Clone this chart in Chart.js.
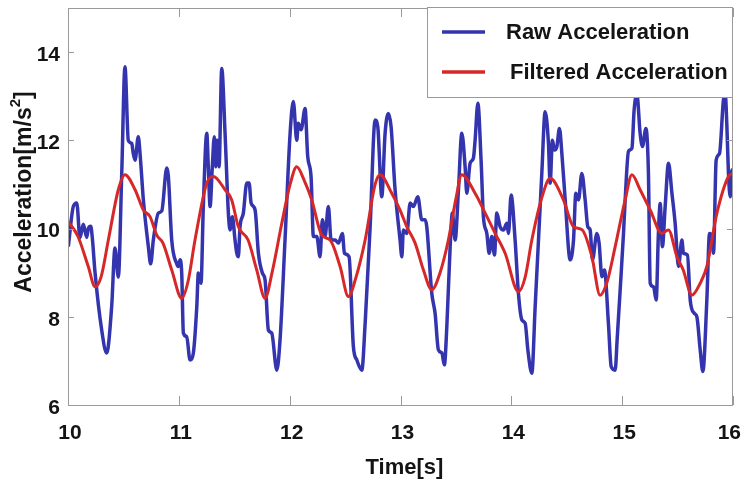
<!DOCTYPE html>
<html>
<head>
<meta charset="utf-8">
<script src="https://cdn.jsdelivr.net/npm/chart.js@4.4.1/dist/chart.umd.min.js"></script>
<style>
  html, body { margin: 0; padding: 0; background: #ffffff; }
  #wrap { width: 742px; height: 481px; }
</style>
</head>
<body>
<div id="wrap"><canvas id="c" width="742" height="481"></canvas></div>
<script>
// ---------- DATA ----------
const seriesNames = ['Raw Acceleration', 'Filtered Acceleration'];
const xAxisTitle = 'Time[s]';
const yAxisTitleMain = 'Acceleration[m/s';
const yAxisTitleSup = '2';
const yAxisTitleEnd = ']';
const xTickValues = [10, 11, 12, 13, 14, 15, 16];
const yTickValues = [6, 8, 10, 12, 14];

const rawTime = [
  10.003,10.048,10.079,10.108,10.138,10.169,10.183,10.205,10.219,10.244,10.304,10.349,10.394,10.424,10.454,10.485,10.514,10.544,10.575,10.589,
  10.605,10.634,10.650,10.680,10.725,10.746,10.770,10.815,10.846,10.891,10.905,10.936,10.981,10.995,11.011,11.026,11.041,11.071,11.101,11.131,
  11.162,11.176,11.200,11.221,11.252,11.266,11.282,11.302,11.320,11.333,11.345,11.363,11.387,11.417,11.447,11.462,11.483,11.507,11.523,11.537,
  11.552,11.582,11.613,11.634,11.652,11.688,11.718,11.754,11.778,11.808,11.838,11.884,11.913,11.958,12.004,12.033,12.064,12.078,12.103,12.139,
  12.163,12.193,12.214,12.245,12.274,12.295,12.319,12.349,12.374,12.410,12.440,12.476,12.494,12.536,12.575,12.606,12.651,12.681,12.726,12.771,
  12.795,12.831,12.861,12.891,12.915,12.951,12.996,13.012,13.026,13.057,13.087,13.116,13.156,13.192,13.222,13.237,13.282,13.312,13.342,13.373,
  13.396,13.418,13.448,13.468,13.493,13.523,13.553,13.583,13.598,13.628,13.658,13.673,13.698,13.727,13.748,13.779,13.800,13.824,13.848,13.869,
  13.899,13.929,13.959,13.974,13.998,14.034,14.064,14.095,14.125,14.149,14.185,14.215,14.245,14.275,14.305,14.335,14.350,14.371,14.389,14.411,
  14.434,14.456,14.486,14.531,14.561,14.582,14.606,14.636,14.666,14.690,14.711,14.732,14.772,14.792,14.817,14.840,14.876,14.901,14.937,14.955,
  14.982,15.012,15.027,15.057,15.088,15.108,15.133,15.162,15.183,15.214,15.237,15.253,15.283,15.307,15.327,15.343,15.363,15.388,15.418,15.449,
  15.478,15.508,15.539,15.553,15.589,15.614,15.650,15.674,15.704,15.728,15.764,15.788,15.810,15.824,15.848,15.878,15.914,15.930,15.945,15.959,
  15.975,15.990,16.000
];
const rawAccel = [
  9.59,10.50,10.58,9.79,10.10,9.80,10.00,10.05,9.80,9.00,7.70,7.18,8.23,9.56,8.90,11.26,13.67,12.00,11.93,11.70,
  11.55,12.08,11.70,10.65,9.59,9.20,9.74,10.35,10.40,11.37,11.20,9.74,9.20,9.14,9.29,8.99,7.63,7.55,7.02,7.18,
  8.23,8.99,8.76,10.50,12.16,11.40,10.50,11.40,12.08,11.40,12.00,11.40,13.63,12.16,10.35,9.97,10.27,9.74,9.44,9.36,
  10.04,10.35,11.03,11.03,10.58,10.42,9.44,8.99,8.84,7.70,7.63,6.79,7.47,9.74,12.16,12.88,12.00,12.39,12.24,12.72,
  11.63,11.18,9.82,9.82,9.36,10.20,9.82,10.50,9.74,9.74,9.67,9.89,9.44,9.36,7.32,7.02,6.79,7.85,10.04,12.46,
  12.31,10.72,12.16,12.61,12.31,10.88,9.74,9.36,9.97,9.89,10.58,10.50,10.72,10.20,10.20,10.04,8.54,8.08,7.25,7.18,
  6.91,7.78,9.59,10.35,9.74,10.88,12.16,11.40,10.80,11.48,11.60,12.00,12.84,11.55,10.27,9.89,9.44,9.82,9.40,10.35,
  10.04,9.97,10.12,9.89,10.76,9.74,8.53,7.93,7.85,7.25,6.72,8.23,9.74,11.25,12.65,11.93,11.03,12.00,11.78,11.86,
  12.27,11.70,10.65,9.29,9.74,10.80,10.65,11.25,10.65,10.04,9.97,9.29,9.89,9.67,8.91,9.06,7.85,6.87,6.79,7.50,
  8.61,9.89,10.65,11.75,11.82,12.69,13.05,12.16,11.86,12.27,11.25,8.76,8.68,8.38,9.89,10.57,9.59,10.50,11.48,10.80,
  10.12,9.14,9.74,9.44,9.40,8.38,8.08,8.00,7.25,6.76,8.38,9.89,9.82,9.44,11.55,11.70,12.92,13.05,12.31,11.25,
  10.72,11.33,10.90
];

const filtTime = [
  10.003,10.090,10.183,10.244,10.298,10.364,10.454,10.514,10.605,10.680,10.740,10.801,10.857,10.936,11.026,11.083,11.146,11.252,11.311,11.417,
  11.477,11.537,11.625,11.703,11.778,11.841,11.929,12.004,12.064,12.130,12.199,12.290,12.365,12.455,12.530,12.599,12.681,12.771,12.816,12.921,
  12.996,13.057,13.132,13.207,13.282,13.357,13.432,13.502,13.553,13.673,13.764,13.854,13.944,14.064,14.125,14.185,14.275,14.350,14.470,14.561,
  14.639,14.727,14.801,14.865,14.937,15.027,15.088,15.162,15.253,15.358,15.418,15.494,15.551,15.629,15.704,15.764,15.855,15.959,16.000
];
const filtAccel = [
  10.16,9.82,9.14,8.68,8.90,9.74,10.88,11.22,10.88,10.42,10.27,9.85,9.67,9.06,8.42,8.80,9.74,11.03,11.18,10.88,
  10.65,10.04,9.74,9.06,8.42,9.00,10.12,11.00,11.40,11.10,10.65,9.85,9.74,9.14,8.46,8.90,9.74,11.00,11.22,10.80,
  10.42,10.04,9.67,9.06,8.61,9.00,9.74,10.70,11.22,10.80,10.35,9.89,9.44,8.57,8.90,9.74,10.70,11.14,10.65,10.04,
  9.97,9.36,8.49,8.80,9.59,10.65,11.22,10.88,10.42,9.89,9.97,9.36,9.06,8.49,8.76,9.14,10.35,11.18,11.25
];

// ---------- STYLE ----------
const RAW_COLOR = '#3434ae';
const FILT_COLOR = '#d62828';
const TEXT_COLOR = '#141414';
const FRAME_COLOR = '#9a9a9a';
const FONT = '"Liberation Sans", Arial, sans-serif';
const TICK_FONT = 'bold 21px ' + FONT;

const toPoints = (xs, ys) => xs.map((x, i) => ({ x: x, y: ys[i] }));

const framePlugin = {
  id: 'frame',
  afterDatasetsDraw(chart) {
    const ctx = chart.ctx;
    const a = chart.chartArea;
    const W = chart.width;
    const xs = chart.scales.x, ys = chart.scales.y;
    ctx.save();
    // frame
    ctx.strokeStyle = FRAME_COLOR;
    ctx.lineWidth = 1;
    ctx.strokeRect(Math.round(a.left) + 0.5, Math.round(a.top) + 0.5,
                   Math.round(a.right - a.left) - 1, Math.round(a.bottom - a.top));
    // inward ticks
    ctx.beginPath();
    xTickValues.forEach(v => {
      const px = Math.round(xs.getPixelForValue(v)) + 0.5;
      ctx.moveTo(px, a.bottom); ctx.lineTo(px, a.bottom - 9);
      ctx.moveTo(px, a.top); ctx.lineTo(px, a.top + 9);
    });
    yTickValues.forEach(v => {
      const py = Math.round(ys.getPixelForValue(v)) + 0.5;
      ctx.moveTo(a.left, py); ctx.lineTo(a.left + 6, py);
      ctx.moveTo(a.right, py); ctx.lineTo(a.right - 6, py);
    });
    ctx.stroke();

    // x tick labels (kept inside the canvas at the right edge)
    ctx.fillStyle = TEXT_COLOR;
    ctx.font = TICK_FONT;
    ctx.textAlign = 'center';
    ctx.textBaseline = 'middle';
    xTickValues.forEach(v => {
      const txt = String(v);
      const w = ctx.measureText(txt).width;
      let px = xs.getPixelForValue(v) + 2;
      px = Math.min(px, W - 1 - w / 2);
      ctx.fillText(txt, px, a.bottom + 28);
    });

    // legend box (top-right corner of the plot)
    const lx0 = a.right - 306, ly0 = a.top - 1, lw = 306, lh = 90;
    ctx.fillStyle = '#ffffff';
    ctx.fillRect(lx0, ly0, lw, lh);
    ctx.strokeStyle = FRAME_COLOR;
    ctx.lineWidth = 1;
    ctx.strokeRect(lx0 + 0.5, ly0 + 0.5, lw - 1, lh);
    const rows = [
      { color: RAW_COLOR, label: chart.data.datasets[0].label, y: ly0 + 25, tx: lx0 + 79 },
      { color: FILT_COLOR, label: chart.data.datasets[1].label, y: ly0 + 65, tx: lx0 + 83 }
    ];
    ctx.font = 'bold 22px ' + FONT;
    ctx.textBaseline = 'middle';
    ctx.textAlign = 'left';
    rows.forEach(r => {
      ctx.strokeStyle = r.color;
      ctx.lineWidth = 3.5;
      ctx.beginPath();
      ctx.moveTo(lx0 + 15, r.y); ctx.lineTo(lx0 + 58, r.y);
      ctx.stroke();
      ctx.fillStyle = TEXT_COLOR;
      ctx.fillText(r.label, r.tx, r.y + 1);
    });

    // axis titles
    ctx.fillStyle = TEXT_COLOR;
    ctx.textAlign = 'center';
    ctx.textBaseline = 'middle';
    ctx.font = 'bold 22px ' + FONT;
    ctx.fillText(xAxisTitle, (a.left + a.right) / 2 + 4, 468);

    ctx.translate(25, 192);
    ctx.rotate(-Math.PI / 2);
    const mainFont = 'bold 23px ' + FONT, supFont = 'bold 15px ' + FONT;
    ctx.font = mainFont; const w1 = ctx.measureText(yAxisTitleMain).width;
    const w3 = ctx.measureText(yAxisTitleEnd).width;
    ctx.font = supFont; const w2 = ctx.measureText(yAxisTitleSup).width;
    let sx = -(w1 + w2 + w3) / 2;
    ctx.textAlign = 'left';
    ctx.font = mainFont; ctx.fillText(yAxisTitleMain, sx, 0); sx += w1;
    ctx.font = supFont; ctx.fillText(yAxisTitleSup, sx, -9); sx += w2;
    ctx.font = mainFont; ctx.fillText(yAxisTitleEnd, sx, 0);
    ctx.restore();
  }
};

new Chart(document.getElementById('c'), {
  type: 'line',
  data: {
    datasets: [
      {
        label: seriesNames[0],
        data: toPoints(rawTime, rawAccel),
        borderColor: RAW_COLOR,
        borderWidth: 3.5,
        pointRadius: 0,
        fill: false,
        cubicInterpolationMode: 'monotone',
        order: 1
      },
      {
        label: seriesNames[1],
        data: toPoints(filtTime, filtAccel),
        borderColor: FILT_COLOR,
        borderWidth: 3,
        pointRadius: 0,
        fill: false,
        cubicInterpolationMode: 'monotone',
        order: 0
      }
    ]
  },
  options: {
    responsive: false,
    devicePixelRatio: 1,
    animation: false,
    layout: { padding: { left: 0, right: 9, top: 8, bottom: 0 } },
    plugins: { legend: { display: false }, tooltip: { enabled: false } },
    scales: {
      x: {
        type: 'linear',
        min: 10, max: 16,
        grid: { display: false, drawTicks: false },
        border: { display: false },
        afterBuildTicks: s => { s.ticks = xTickValues.map(v => ({ value: v })); },
        afterFit: s => { s.height = 76; s.paddingLeft = 0; s.paddingRight = 0; },
        ticks: { display: false }
      },
      y: {
        min: 6, max: 15,
        grid: { display: false, drawTicks: false },
        border: { display: false },
        afterBuildTicks: s => { s.ticks = yTickValues.map(v => ({ value: v })); },
        afterFit: s => { s.width = 68; s.paddingTop = 0; s.paddingBottom = 0; },
        ticks: {
          padding: 8,
          labelOffset: 3,
          color: TEXT_COLOR,
          font: { family: FONT, size: 21, weight: 'bold' }
        }
      }
    }
  },
  plugins: [framePlugin]
});
</script>
</body>
</html>
